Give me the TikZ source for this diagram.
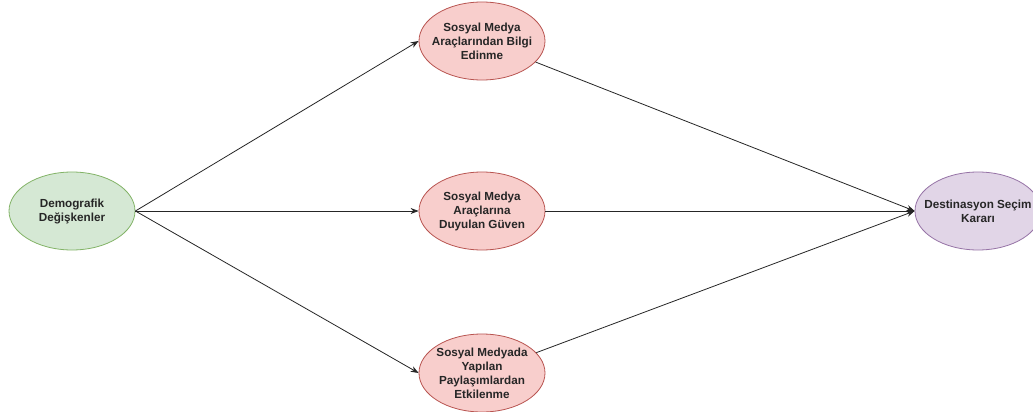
\documentclass[tikz,border=0pt]{standalone}
\usepackage{fontspec}
\setmainfont{Liberation Sans}
\usetikzlibrary{arrows.meta,shapes.geometric}
\definecolor{gfill}{HTML}{D5E8D4}\definecolor{gdraw}{HTML}{82B366}
\definecolor{rfill}{HTML}{F8CECC}\definecolor{rdraw}{HTML}{B85450}
\definecolor{pfill}{HTML}{E1D5E7}\definecolor{pdraw}{HTML}{9673A6}
\newcommand{\nb}[1]{\makebox[60pt][c]{#1}}
\tikzset{
  ell/.style={ellipse, minimum width=126pt, minimum height=78pt, inner sep=0pt, line width=0.8pt,
    font=\fontsize{11.7}{14}\selectfont\bfseries, align=center, text=black!85},
  gnode/.style={ell, fill=gfill, draw=gdraw},
  rnode/.style={ell, fill=rfill, draw=rdraw},
  pnode/.style={ell, fill=pfill, draw=pdraw},
  conn/.style={draw=black!85, line width=0.8pt, -{Stealth[length=8pt,width=6pt]}}
}
\begin{document}
\begin{tikzpicture}[x=1pt,y=-1pt]
\useasboundingbox (0,0) rectangle (1033,412);
\clip (0,0) rectangle (1033,412);
\fill[white] (0,0) rectangle (1033,412);
\node[gnode] (d) at (72,211) {Demografik\\Değişkenler};
\node[rnode] (a) at (482,41) {\nb{Sosyal Medya}\\\nb{Araçlarından Bilgi}\\Edinme};
\node[rnode] (b) at (482,211) {\nb{Sosyal Medya}\\Araçlarına\\\nb{Duyulan Güven}};
\node[rnode] (c) at (482,373) {\nb{Sosyal Medyada}\\Yapılan\\\nb{Paylaşımlardan}\\Etkilenme};
\node[pnode] (e) at (978,211) {\nb{Destinasyon Seçim}\\Kararı};
\draw[conn] (d.east) -- (a.west);
\draw[conn] (d.east) -- (b.west);
\draw[conn] (d.east) -- (c.west);
\draw[conn] (a) -- (e.west);
\draw[conn] (b.east) -- (e.west);
\draw[conn] (c) -- (e.west);
\end{tikzpicture}
\end{document}
